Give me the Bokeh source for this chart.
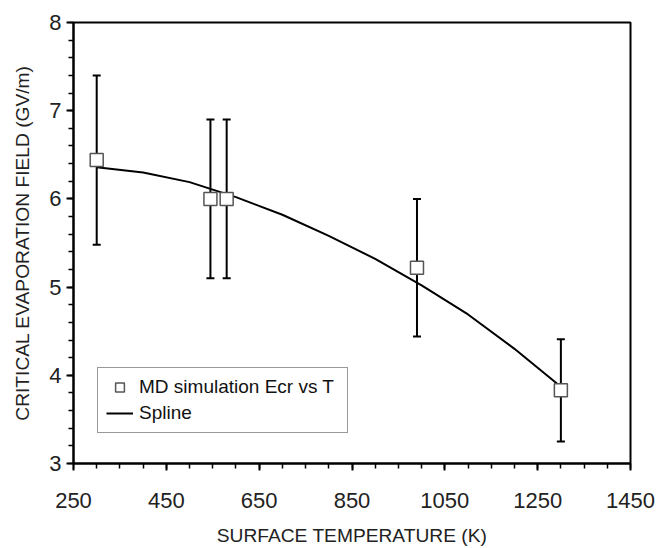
import numpy as np
from bokeh.plotting import figure
from bokeh.models import (Range1d, FixedTicker, ColumnDataSource, Whisker,
                          TeeHead, Legend, LegendItem)
from bokeh.embed import file_html
from bokeh.resources import INLINE

# Data
temps = [300, 545, 580, 990, 1300]
ecr = [6.44, 6.00, 6.00, 5.22, 3.83]
err = [0.96, 0.90, 0.90, 0.78, 0.58]

spline_t = [300, 400, 500, 600, 700, 800, 900, 1000, 1100, 1200, 1300]
spline_e = [6.36, 6.30, 6.19, 6.02, 5.82, 5.58, 5.32, 5.02, 4.69, 4.30, 3.87]

x_ticks = [250, 450, 650, 850, 1050, 1250, 1450]
y_ticks = [3, 4, 5, 6, 7, 8]

FONT = "Liberation Sans"

p = figure(width=656, height=548, output_backend="svg", toolbar_location=None,
           x_range=Range1d(250, 1450), y_range=Range1d(3, 8),
           min_border_left=73, min_border_right=26, min_border_top=22, min_border_bottom=85)

p.background_fill_color = "white"
p.border_fill_color = "white"
p.outline_line_color = "black"
p.outline_line_width = 2
p.xgrid.visible = False
p.ygrid.visible = False

p.xaxis.ticker = FixedTicker(ticks=x_ticks,
                             minor_ticks=list(np.arange(x_ticks[0], x_ticks[-1] + 1, 50)))
p.yaxis.ticker = FixedTicker(ticks=y_ticks,
                             minor_ticks=list(np.round(np.arange(y_ticks[0], y_ticks[-1] + 0.01, 0.2), 2)))

for ax in (p.xaxis[0], p.yaxis[0]):
    ax.axis_line_color = "black"
    ax.axis_line_width = 2
    ax.major_tick_line_color = "black"
    ax.major_tick_line_width = 2
    ax.minor_tick_line_color = "black"
    ax.minor_tick_line_width = 1.5
    ax.major_tick_in = 0
    ax.major_tick_out = 7
    ax.minor_tick_in = 0
    ax.minor_tick_out = 5
    ax.major_label_text_font = FONT
    ax.major_label_text_font_size = "22px"
    ax.major_label_text_color = "#222222"
    ax.axis_label_text_font = FONT
    ax.axis_label_text_font_size = "19.2px"
    ax.axis_label_text_font_style = "normal"
    ax.axis_label_text_color = "#222222"

p.xaxis.axis_label = "SURFACE TEMPERATURE (K)"
p.yaxis.axis_label = "CRITICAL EVAPORATION FIELD (GV/m)"
p.xaxis.major_label_standoff = 22
p.xaxis.axis_label_standoff = 14
p.xaxis.major_label_text_line_height = 0.8
p.xaxis.axis_label_text_line_height = 0.8
p.yaxis.major_label_standoff = 5
p.yaxis.axis_label_standoff = 13

# Error bars
src = ColumnDataSource(dict(
    x=temps, y=ecr,
    upper=[v + e for v, e in zip(ecr, err)],
    lower=[v - e for v, e in zip(ecr, err)],
))
wh = Whisker(source=src, base="x", upper="upper", lower="lower", dimension="height",
             line_color="black", line_width=2,
             upper_head=TeeHead(size=8, line_color="black", line_width=2),
             lower_head=TeeHead(size=8, line_color="black", line_width=2))
p.add_layout(wh)

# Spline
line_r = p.line(spline_t, spline_e, line_color="black", line_width=2)

# Markers
sc = p.scatter("x", "y", source=src, marker="square", size=13,
               fill_color="white", line_color="#555555", line_width=1.5)

legend = Legend(items=[LegendItem(label="MD simulation Ecr vs T", renderers=[sc]),
                       LegendItem(label="Spline", renderers=[line_r])],
                location=(24, 30))
legend.label_text_font = FONT
legend.label_text_font_size = "19px"
legend.label_text_color = "#111111"
legend.border_line_color = "#333333"
legend.border_line_width = 1
legend.background_fill_color = "white"
legend.background_fill_alpha = 1
legend.padding = 8
legend.spacing = 4
legend.label_height = 22
legend.glyph_height = 22
legend.glyph_width = 27
legend.label_standoff = 6
legend.label_width = 200
legend.margin = 0
p.add_layout(legend, "center")

open("out.html", "w").write(file_html(p, INLINE))
